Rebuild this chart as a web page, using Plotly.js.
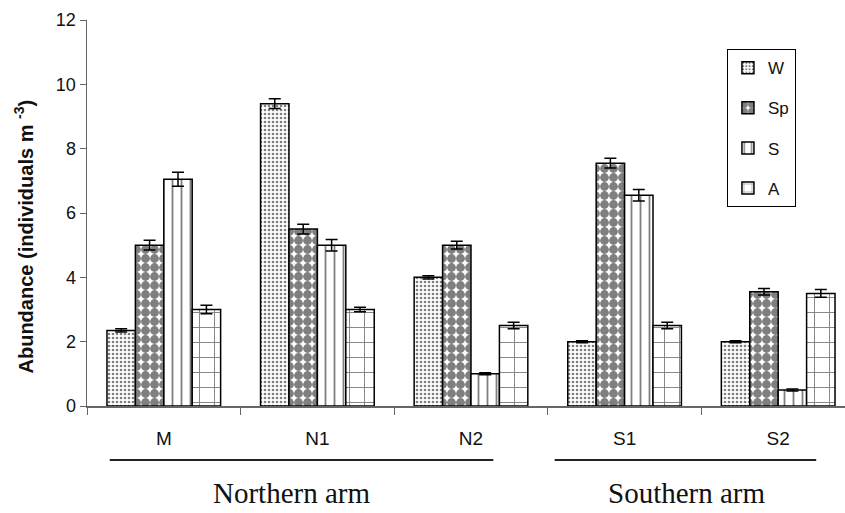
<!DOCTYPE html>
<html><head><meta charset="utf-8">
<script src="https://cdn.plot.ly/plotly-3.0.1.min.js"></script>
<style>body{margin:0;background:#fff}</style>
</head><body><div id="chart" style="width:845px;height:513px"></div>
<script>
const sites = ["M", "N1", "N2", "S1", "S2"];
const seasons = ["W", "Sp", "S", "A"];
const W  = [2.35, 9.4, 4.0, 2.0, 2.0];
const Sp = [5.0, 5.5, 5.0, 7.55, 3.55];
const S  = [7.05, 5.0, 1.0, 6.55, 0.5];
const A  = [3.0, 3.0, 2.5, 2.5, 3.5];
const W_err  = [0.05, 0.15, 0.05, 0.03, 0.03];
const Sp_err = [0.15, 0.15, 0.12, 0.15, 0.1];
const S_err  = [0.22, 0.18, 0.03, 0.18, 0.03];
const A_err  = [0.13, 0.07, 0.1, 0.1, 0.12];
const groupNames = ["Northern arm", "Southern arm"];
const yTitle = "Abundance (individuals m <sup>-3</sup>)";

const vals = [W, Sp, S, A];
const errs = [W_err, Sp_err, S_err, A_err];
const patterns = [
  {shape: ".", size: 4, solidity: 0.35, fgcolor: "#000", bgcolor: "#fff", fillmode: "overlay"},
  {shape: ".", size: 9, solidity: 0.75, fgcolor: "#000", bgcolor: "#fff", fillmode: "overlay"},
  {shape: "|", size: 9, solidity: 0.2, fgcolor: "#000", bgcolor: "#fff", fillmode: "overlay"},
  {shape: "+", size: 15, solidity: 0.12, fgcolor: "#000", bgcolor: "#fff", fillmode: "overlay"}
];
const traces = seasons.map((s, i) => ({
  type: "bar", name: s, x: sites, y: vals[i], legendgroup: s,
  marker: {color: "#fff", line: {color: "#000", width: 1.5}, pattern: patterns[i]},
  error_y: {type: "data", array: errs[i], visible: true, color: "#000", thickness: 1.5, width: 6}
}));

const layout = {
  width: 845, height: 513,
  margin: {l: 87, r: 0, t: 20, b: 107},
  paper_bgcolor: "#fff", plot_bgcolor: "#fff",
  barmode: "group", bargap: 0.26, bargroupgap: 0,
  font: {family: "Liberation Sans, Arial, sans-serif", color: "#111"},
  xaxis: {
    type: "category", range: [-0.5, 4.435],
    showline: true, linecolor: "#666", linewidth: 1.5,
    ticks: "outside", tickson: "boundaries", ticklen: 7, tickcolor: "#666",
    tickfont: {size: 19}, ticklabelstandoff: 15, showgrid: false, zeroline: false
  },
  yaxis: {
    range: [0, 12], dtick: 2,
    showline: true, linecolor: "#666", linewidth: 1.5,
    ticks: "outside", ticklen: 6, tickcolor: "#666",
    tickfont: {size: 18}, showgrid: false, zeroline: false
  },
  legend: {
    x: 0.844, y: 0.925, xanchor: "left", yanchor: "top",
    bordercolor: "#000", borderwidth: 1.2, bgcolor: "#fff",
    font: {size: 17}, tracegroupgap: 15, itemwidth: 30
  },
  shapes: [
    {type: "line", xref: "paper", yref: "paper", x0: 0.03, x1: 0.536, y0: -0.14, y1: -0.14, line: {color: "#222", width: 2}},
    {type: "line", xref: "paper", yref: "paper", x0: 0.617, x1: 0.962, y0: -0.14, y1: -0.14, line: {color: "#222", width: 2}}
  ],
  annotations: [
    {text: "<b>" + yTitle + "</b>", xref: "paper", yref: "paper", x: -0.084, y: 0.44, textangle: -90,
     xanchor: "center", yanchor: "middle", showarrow: false, font: {size: 20, color: "#111"}},
    {text: groupNames[0], xref: "paper", yref: "paper", x: 0.27, y: -0.225, xanchor: "center", yanchor: "middle", showarrow: false,
     font: {family: "Liberation Serif, Times New Roman, serif", size: 29, color: "#111"}},
    {text: groupNames[1], xref: "paper", yref: "paper", x: 0.791, y: -0.225, xanchor: "center", yanchor: "middle", showarrow: false,
     font: {family: "Liberation Serif, Times New Roman, serif", size: 29, color: "#111"}}
  ]
};
Plotly.newPlot("chart", traces, layout, {displayModeBar: false, staticPlot: true});
</script></body></html>
